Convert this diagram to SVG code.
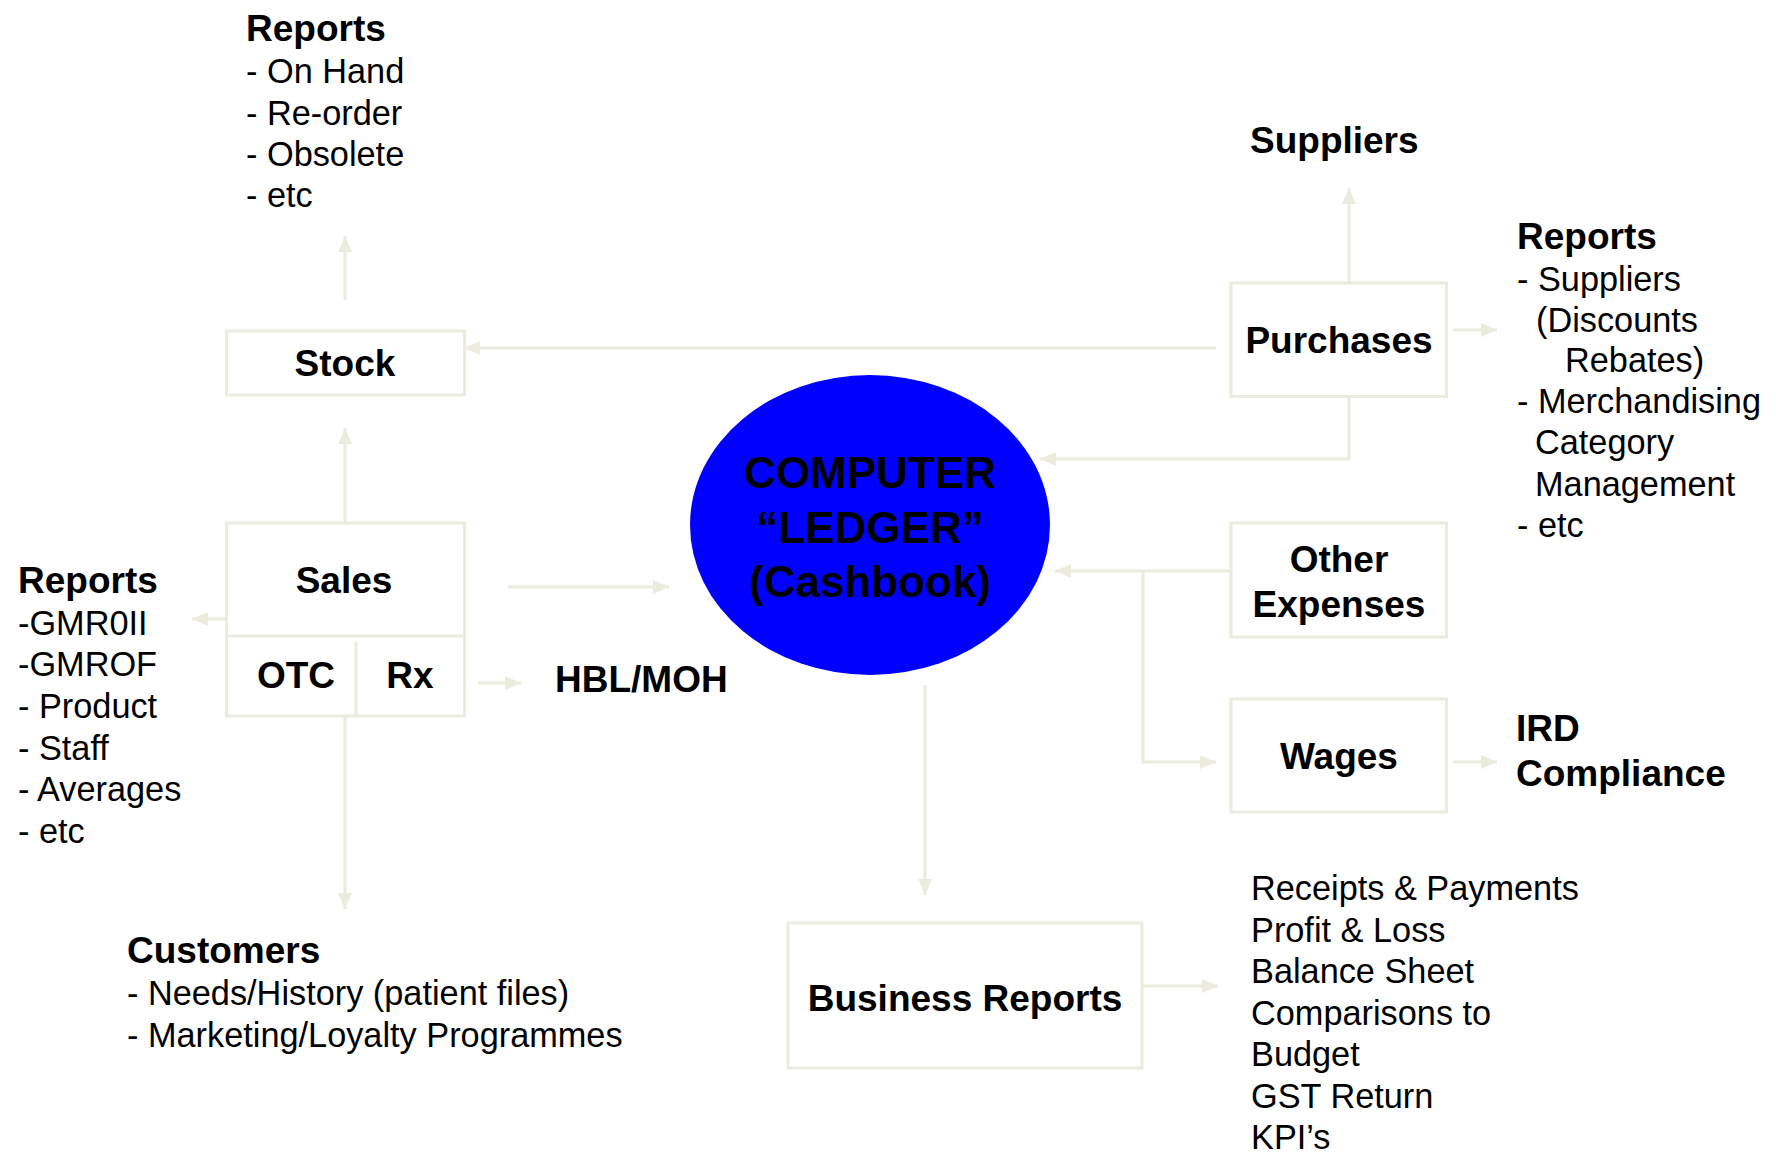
<svg xmlns="http://www.w3.org/2000/svg" width="1776" height="1159" viewBox="0 0 1776 1159">
<style>
.box{fill:#ffffff;stroke:#ECEBE0;stroke-width:3}
.con{fill:none;stroke:#ECEBE0;stroke-width:3}
.b{font-family:"Liberation Sans",Arial,sans-serif;font-weight:bold;font-size:37px;fill:#000}
.r{font-family:"Liberation Sans",Arial,sans-serif;font-size:34.3px;fill:#000}
.c{text-anchor:middle}
.e{font-family:"Liberation Sans",Arial,sans-serif;font-weight:bold;font-size:44px;fill:#000;text-anchor:middle}
</style>
<defs>
<marker id="ah" markerUnits="userSpaceOnUse" markerWidth="16" markerHeight="14" refX="16" refY="7" orient="auto">
<path d="M0,0 L16,7 L0,14 z" fill="#ECEBE0"/>
</marker>
</defs>
<rect width="1776" height="1159" fill="#ffffff"/>
<g id="connectors">
<path class="con" marker-end="url(#ah)" d="M345,300 L345,236"/>
<path class="con" marker-end="url(#ah)" d="M1216,348 L464,348"/>
<path class="con" marker-end="url(#ah)" d="M345,523 L345,428"/>
<path class="con" marker-end="url(#ah)" d="M232,619 L192,619"/>
<path class="con" marker-end="url(#ah)" d="M508,587 L669,587"/>
<path class="con" marker-end="url(#ah)" d="M478,683 L521,683"/>
<path class="con" marker-end="url(#ah)" d="M345,716 L345,909"/>
<path class="con" marker-end="url(#ah)" d="M1349,283 L1349,188"/>
<path class="con" marker-end="url(#ah)" d="M1453,330 L1497,330"/>
<path class="con" marker-end="url(#ah)" d="M1349,397 L1349,459 L1040,459"/>
<path class="con" marker-end="url(#ah)" d="M1231,571 L1055,571"/>
<path class="con" marker-end="url(#ah)" d="M1143,571 L1143,762 L1216,762"/>
<path class="con" marker-end="url(#ah)" d="M1453,762 L1497,762"/>
<path class="con" marker-end="url(#ah)" d="M925,685 L925,895"/>
<path class="con" marker-end="url(#ah)" d="M1143,986 L1218,986"/>
</g>
<g id="ledger">
<ellipse cx="870" cy="525" rx="180" ry="150" fill="#0000FF"/>
<text class="e" x="870" y="488">COMPUTER</text>
<text class="e" x="870" y="543">“LEDGER”</text>
<text class="e" x="870" y="597">(Cashbook)</text>
</g>
<g id="stock">
<rect class="box" x="226.5" y="331" width="238" height="64"/>
<text class="b c" x="345" y="376">Stock</text>
</g>
<g id="sales">
<rect class="box" x="226.5" y="523" width="238" height="193"/>
<line class="con" x1="226.5" y1="636" x2="464.5" y2="636"/>
<line class="con" x1="356" y1="642" x2="356" y2="717"/>
<text class="b c" x="344" y="593">Sales</text>
<text class="b c" x="296" y="688">OTC</text>
<text class="b c" x="410" y="688">Rx</text>
</g>
<g id="purchases">
<rect class="box" x="1231" y="283" width="215.5" height="113.5"/>
<text class="b c" x="1339" y="353">Purchases</text>
</g>
<g id="other-expenses">
<rect class="box" x="1231" y="523" width="215.5" height="114"/>
<text class="b c" x="1339" y="572">Other</text>
<text class="b c" x="1339" y="617">Expenses</text>
</g>
<g id="wages">
<rect class="box" x="1231" y="699" width="215.5" height="113"/>
<text class="b c" x="1339" y="769">Wages</text>
</g>
<g id="business-reports">
<rect class="box" x="788" y="923" width="354" height="145"/>
<text class="b c" x="965" y="1011">Business Reports</text>
</g>
<g id="stock-reports">
<text class="b" x="246" y="41">Reports</text>
<text class="r" x="246" y="83">- On Hand</text>
<text class="r" x="246" y="125">- Re-order</text>
<text class="r" x="246" y="166">- Obsolete</text>
<text class="r" x="246" y="207">- etc</text>
</g>
<g id="sales-reports">
<text class="b" x="18" y="593">Reports</text>
<text class="r" x="18" y="635">-GMR0II</text>
<text class="r" x="18" y="676">-GMROF</text>
<text class="r" x="18" y="718">- Product</text>
<text class="r" x="18" y="760">- Staff</text>
<text class="r" x="18" y="801">- Averages</text>
<text class="r" x="18" y="843">- etc</text>
</g>
<g id="hbl-moh">
<text class="b" x="555" y="692">HBL/MOH</text>
</g>
<g id="customers">
<text class="b" x="127" y="963">Customers</text>
<text class="r" x="127" y="1005">- Needs/History (patient files)</text>
<text class="r" x="127" y="1047">- Marketing/Loyalty Programmes</text>
</g>
<g id="suppliers">
<text class="b" x="1250" y="153">Suppliers</text>
</g>
<g id="purchase-reports">
<text class="b" x="1517" y="249">Reports</text>
<text class="r" x="1517" y="291">- Suppliers</text>
<text class="r" x="1536" y="332">(Discounts</text>
<text class="r" x="1565" y="372">Rebates)</text>
<text class="r" x="1517" y="413">- Merchandising</text>
<text class="r" x="1535" y="454">Category</text>
<text class="r" x="1535" y="496">Management</text>
<text class="r" x="1517" y="537">- etc</text>
</g>
<g id="ird">
<text class="b" x="1516" y="741">IRD</text>
<text class="b" x="1516" y="786">Compliance</text>
</g>
<g id="business-list">
<text class="r" x="1251" y="900">Receipts &amp; Payments</text>
<text class="r" x="1251" y="942">Profit &amp; Loss</text>
<text class="r" x="1251" y="983">Balance Sheet</text>
<text class="r" x="1251" y="1025">Comparisons to</text>
<text class="r" x="1251" y="1066">Budget</text>
<text class="r" x="1251" y="1108">GST Return</text>
<text class="r" x="1251" y="1149">KPI’s</text>
</g>
</svg>
